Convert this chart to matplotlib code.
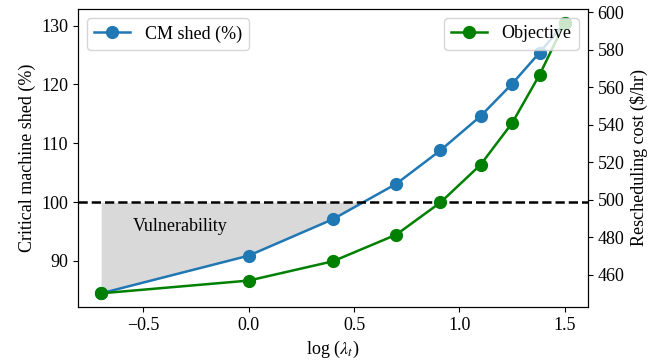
import numpy as np
import matplotlib
matplotlib.use("Agg")
import matplotlib.pyplot as plt

plt.rcParams['font.family'] = ['Liberation Serif', 'DejaVu Serif']
plt.rcParams['mathtext.fontset'] = 'stix'
plt.rcParams['font.size'] = 13

log_lambda = [-0.7, 0.0, 0.4, 0.7, 0.91, 1.1, 1.25, 1.38, 1.5]
cm_shed = [84.5, 90.9, 97.1, 103.1, 108.8, 114.6, 120.1, 125.4, 130.5]
objective = [450.0, 456.8, 467.1, 481.3, 498.5, 518.6, 540.9, 566.6, 594.5]
threshold = 100

fig = plt.figure(figsize=(6.72, 3.64), dpi=100)
ax1 = fig.add_axes([0.116, 0.157, 0.759, 0.818])
ax2 = ax1.twinx()

x = np.array(log_lambda)
y1 = np.array(cm_shed)

ax1.fill_between(x, y1, threshold, where=y1 <= threshold, interpolate=True,
                 color='#d9d9d9', linewidth=0)
ax1.plot(x, y1, '-o', color='#1f77b4', lw=1.8, markersize=8.5, label='CM shed (%)')
ax1.axhline(threshold, color='black', ls='--', lw=1.8)
ax1.text(-0.55, 95.8, 'Vulnerability', ha='left', va='center', fontsize=13)

ax2.plot(x, objective, '-o', color='green', lw=1.8, markersize=8.5, label='Objective')

ax1.set_ylabel('Critical machine shed (%)')
ax2.set_ylabel('Rescheduling cost (\\$/hr)')
ax1.set_xlabel(r'log ($\lambda_t$)')

ax1.legend(loc='upper left')
ax2.legend(loc='upper right')

fig.savefig('out.png', dpi=100)
